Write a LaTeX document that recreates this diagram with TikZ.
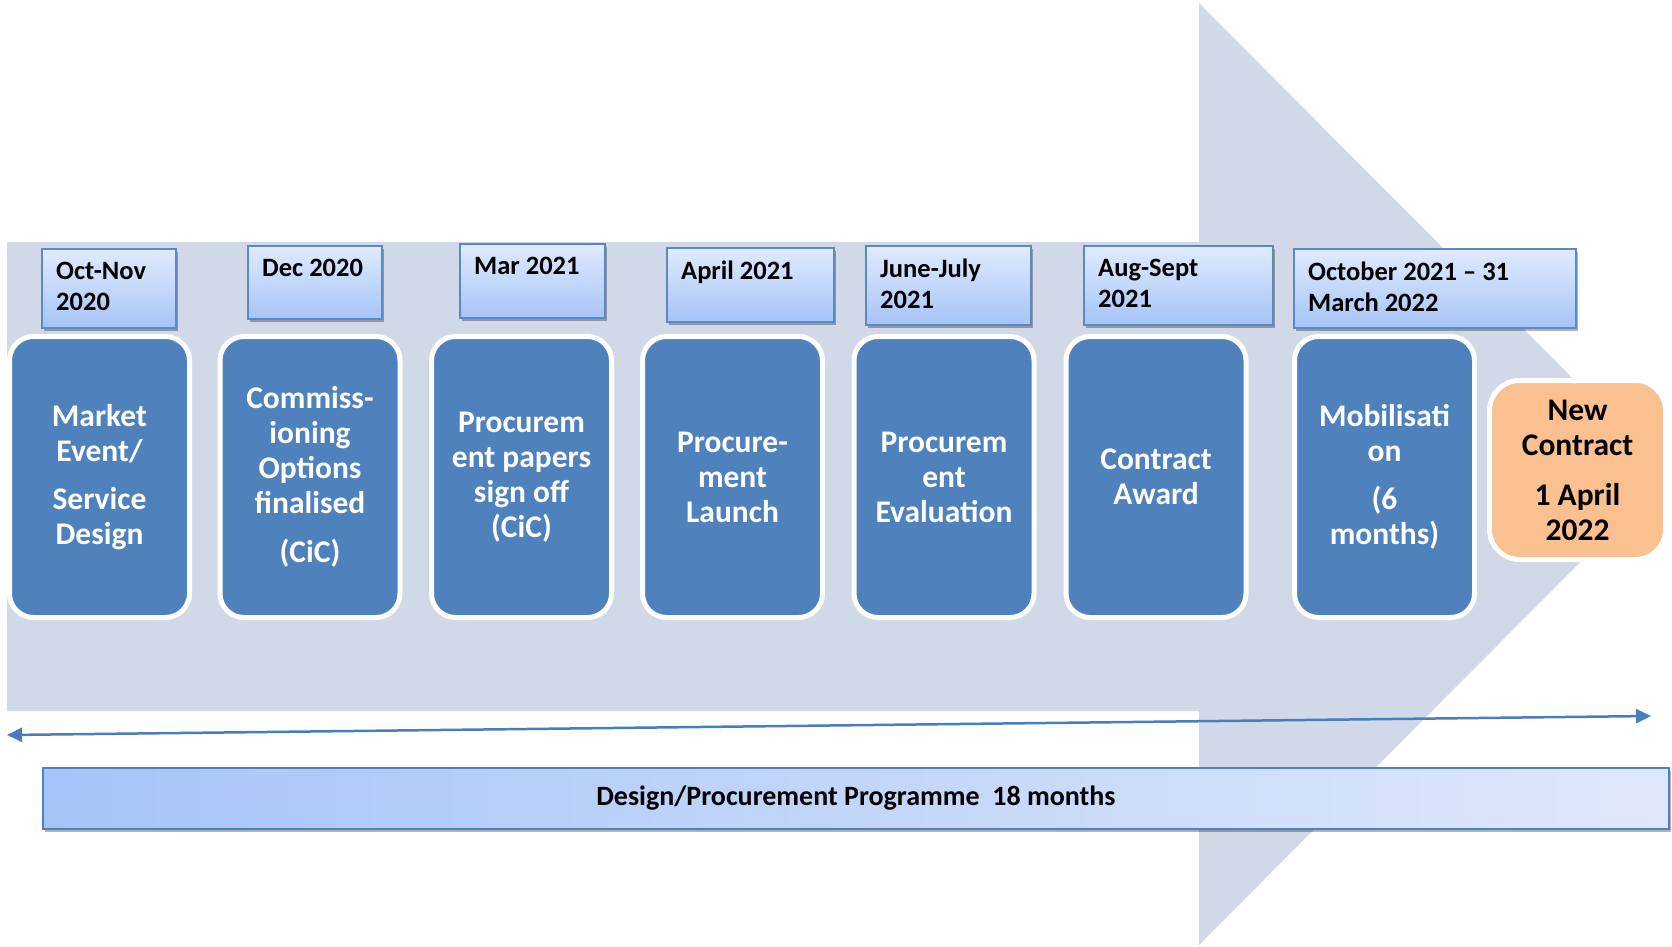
\documentclass[tikz,border=0pt]{standalone}
\usepackage{fontspec}
\setmainfont{Carlito}
\usepackage{tikz}
\usetikzlibrary{shadows,arrows.meta}
\definecolor{bandgrey}{HTML}{D1D8E7}
\definecolor{stageblue}{HTML}{4F81BD}
\definecolor{dateedge}{HTML}{5A8AC6}
\definecolor{datetop}{HTML}{E0EBFD}
\definecolor{datebot}{HTML}{A6C4F8}
\definecolor{neworange}{HTML}{FAC090}
\definecolor{barleft}{HTML}{A6C4F8}
\definecolor{barright}{HTML}{DFE8FA}
\definecolor{arrowblue}{HTML}{4A7EBB}

\begin{document}
\begin{tikzpicture}[x=1pt,y=-1pt,
  stage/.style={draw=white, line width=5pt, fill=stageblue, rounded corners=24pt,
    minimum width=180pt, minimum height=281pt, inner sep=0pt, align=center,
    text=white, font=\fontsize{31.5}{35}\selectfont\bfseries},
  newbox/.style={stage, fill=neworange, text=black, minimum width=176pt, minimum height=179pt, rounded corners=30pt},
  datebox/.style={draw=dateedge, line width=1.5pt, top color=datetop, bottom color=datebot,
    anchor=north west, inner sep=0pt,
    drop shadow={shadow xshift=2pt, shadow yshift=-3pt, opacity=.3, fill=black}},
  datetext/.style={anchor=north west, inner sep=0pt, align=left, font=\fontsize{26.5}{31}\selectfont\bfseries},
  progbar/.style={draw=stageblue, line width=2pt, left color=barleft, right color=barright,
    minimum width=1626pt, minimum height=61pt, inner sep=0pt, font=\fontsize{28}{32}\selectfont\bfseries,
    drop shadow={shadow xshift=2pt, shadow yshift=-3pt, opacity=.3, fill=black}}]
\useasboundingbox (0,0) rectangle (1672,947);
%BACK ARROW
\fill[bandgrey] (7,242) -- (1199,242) -- (1199,3) -- (1668,474) -- (1199,945) -- (1199,711) -- (7,711) -- cycle;
%STAGES
\node[stage] (s1) at (99.5,477) {Market\\Event/\\[13pt]Service\\Design};
\node[stage] (s2) at (310,477) {Commiss-\\ioning\\Options\\finalised\\[14pt](CiC)};
\node[stage] (s3) at (521.5,477) {Procurem\\ent papers\\sign off\\(CiC)};
\node[stage] (s4) at (732.5,477) {Procure-\\ment\\Launch};
\node[stage] (s5) at (944,477) {Procurem\\ent\\Evaluation};
\node[stage] (s6) at (1156,477) {Contract\\Award};
\node[stage] (s7) at (1384.5,477) {Mobilisati\\on\\[13pt](6\\months)};
\node[newbox] (new) at (1577.5,470) {New\\Contract\\[15pt]1 April\\2022};
%DATES
\node[datebox, minimum width=134pt, minimum height=79pt] (d1) at (41,248) {};
\node[datebox, minimum width=134pt, minimum height=73pt] (d2) at (247,245) {};
\node[datebox, minimum width=145pt, minimum height=74pt] (d3) at (459,243) {};
\node[datebox, minimum width=167pt, minimum height=74pt] (d4) at (666,247) {};
\node[datebox, minimum width=165pt, minimum height=79pt] (d5) at (865,245) {};
\node[datebox, minimum width=189pt, minimum height=79pt] (d6) at (1083,245) {};
\node[datebox, minimum width=282pt, minimum height=79pt] (d7) at (1293,248) {};
\node[datetext] (t1) at ([shift={(15,14)}]d1.north west) {Oct-Nov\\2020};
\node[datetext] (t2) at ([shift={(15,14)}]d2.north west) {Dec 2020};
\node[datetext] (t3) at ([shift={(15,14)}]d3.north west) {Mar 2021};
\node[datetext] (t4) at ([shift={(15,14)}]d4.north west) {April 2021};
\node[datetext] (t5) at ([shift={(15,14)}]d5.north west) {June-July\\2021};
\node[datetext] (t6) at ([shift={(15,14)}]d6.north west) {Aug-Sept\\2021};
\node[datetext] (t7) at ([shift={(15,14)}]d7.north west) {October 2021 -- 31\\March 2022};
%SPAN
\coordinate (arrL) at (7,735);
\coordinate (arrR) at (1651,716);
\draw[arrowblue, line width=2.5pt, {Triangle[length=15pt,width=14pt]}-{Triangle[length=15pt,width=14pt]}] (arrL) -- (arrR);
\node[progbar] (prog) at (856,798.5) {Design/Procurement Programme\ \ 18 months};
\end{tikzpicture}
\end{document}
